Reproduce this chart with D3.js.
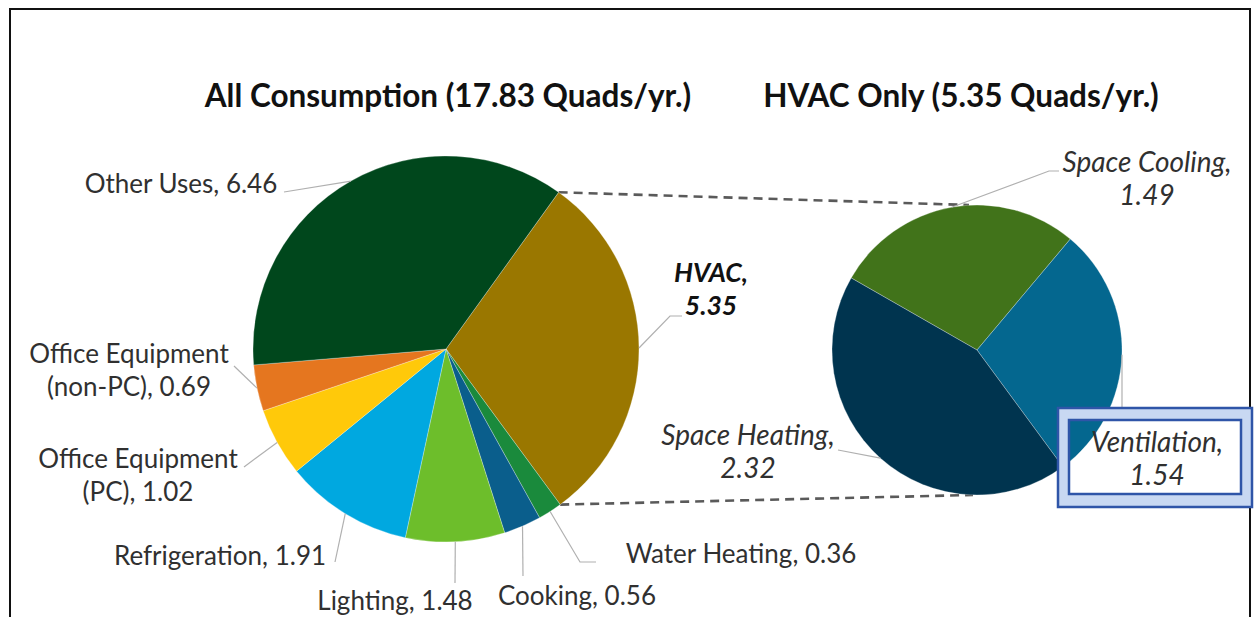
<!DOCTYPE html>
<html>
<head>
<meta charset="utf-8">
<script src="https://cdn.jsdelivr.net/npm/d3@7/dist/d3.min.js"></script>
<style>
  html, body { margin: 0; padding: 0; background: #fff; }
  svg { display: block; }
</style>
</head>
<body>
<svg id="chart" width="1258" height="617"></svg>
<script>
// ---------------- DATA ----------------
const allCategories = ["HVAC", "Water Heating", "Cooking", "Lighting", "Refrigeration",
  "Office Equipment (PC)", "Office Equipment (non-PC)", "Other Uses"];
const allValues = [5.35, 0.36, 0.56, 1.48, 1.91, 1.02, 0.69, 6.46];
const allTotal = 17.83;

const hvacCategories = ["Space Cooling", "Ventilation", "Space Heating"];
const hvacValues = [1.49, 1.54, 2.32];
const hvacTotal = 5.35;

const titles = [`All Consumption (${allTotal.toFixed(2)} Quads/yr.)`, `HVAC Only (${hvacTotal.toFixed(2)} Quads/yr.)`];

// ---------------- STYLE / LAYOUT ----------------
const allColors = ["#9A7700", "#1A8A3C", "#0A5E8C", "#6DBE2B", "#00A8E0", "#FFC90A", "#E5761F", "#00471C"];
const hvacColors = ["#41731A", "#04678F", "#00344F"];
const FONT = "Lato, 'Open Sans', sans-serif";
const LABEL_SIZE = 26;
const ITALIC_SIZE = 28;
const TITLE_SIZE = 31.5;
const LABEL_COLOR = "#303030";
const LEADER = "#b0b0b0";

const deg = Math.PI / 180;
const left = { cx: 446, cy: 349, r: 193, start: 35.7 * deg };
const right = { cx: 977, cy: 350, r: 145, start: -60.2 * deg };

const fmt = v => v.toFixed(2);

// label layout for the left pie (text anchor point + leader end)
const allLabelLayout = [
  { x: 711, y: 282, size: 26.5, lines: d => ["HVAC,", fmt(d.value)], bold: true, italic: true, leader: [[670, 316], [682, 316]] },
  { x: 741, y: 563, lines: d => [`${d.name}, ${fmt(d.value)}`], leader: [[580, 562], [596, 562]] },
  { x: 577, y: 605, lines: d => [`${d.name}, ${fmt(d.value)}`], leader: [[523, 576]] },
  { x: 395, y: 610, lines: d => [`${d.name}, ${fmt(d.value)}`], leader: [[455, 583]] },
  { x: 220, y: 565, lines: d => [`${d.name}, ${fmt(d.value)}`], leader: [[335, 562]] },
  { x: 138, y: 468, lines: d => ["Office Equipment", `(PC), ${fmt(d.value)}`], leader: [[244, 467]] },
  { x: 129, y: 363, lines: d => ["Office Equipment", `(non-PC), ${fmt(d.value)}`], leader: [[234, 366]] },
  { x: 181, y: 193, lines: d => [`${d.name}, ${fmt(d.value)}`], leader: [[284, 192]] }
];
const hvacLabelLayout = [
  { x: 1147, y: 172, lines: d => [`${d.name},`, fmt(d.value)], leader: [[1049, 171], [1059, 171]] },
  { x: 1157, y: 452, lines: d => [`${d.name},`, fmt(d.value)], leader: [[1122, 408]], vertical: true },
  { x: 748, y: 445, lines: d => [`${d.name},`, fmt(d.value)], leader: [[838, 450]] }
];

const svg = d3.select("#chart");

// frame
svg.append("rect").attr("x", 10).attr("y", 9).attr("width", 1240).attr("height", 640)
  .attr("fill", "none").attr("stroke", "#111").attr("stroke-width", 2);

// titles
svg.append("text").attr("x", 448).attr("y", 107).attr("text-anchor", "middle")
  .attr("font-family", FONT).attr("font-weight", "bold").attr("font-size", TITLE_SIZE).attr("fill", "#111")
  .text(titles[0]);
svg.append("text").attr("x", 961).attr("y", 107).attr("text-anchor", "middle")
  .attr("font-family", FONT).attr("font-weight", "bold").attr("font-size", TITLE_SIZE).attr("fill", "#111")
  .text(titles[1]);

function drawPie(cfg, names, values, colors, layout) {
  const data = names.map((n, i) => ({ name: n, value: values[i] }));
  const pie = d3.pie().value(d => d.value).sort(null)
    .startAngle(cfg.start).endAngle(cfg.start + 2 * Math.PI);
  const arcs = pie(data);
  const arc = d3.arc().innerRadius(0).outerRadius(cfg.r);
  const g = svg.append("g").attr("transform", `translate(${cfg.cx},${cfg.cy})`);
  g.selectAll("path").data(arcs).join("path")
    .attr("d", arc)
    .attr("fill", (d, i) => colors[i])
    .attr("stroke", "#ffffff").attr("stroke-opacity", 0.35).attr("stroke-width", 0.8);

  const lineGen = d3.line();
  arcs.forEach((a, i) => {
    const L = layout[i];
    const mid = (a.startAngle + a.endAngle) / 2;
    const ex = cfg.cx + cfg.r * Math.sin(mid);
    const ey = cfg.cy - cfg.r * Math.cos(mid);
    let pts = [[ex, ey]].concat(L.leader);
    if (L.vertical) pts = [[L.leader[0][0], ey], L.leader[0]];
    svg.append("path").attr("d", lineGen(pts)).attr("fill", "none")
      .attr("stroke", LEADER).attr("stroke-width", 1.2);
  });
  return arcs;
}

// connector lines (drawn first so pies overlay them)
const leftArcs = d3.pie().value(d => d).sort(null)
  .startAngle(left.start).endAngle(left.start + 2 * Math.PI)(allValues);
const hvacArc = leftArcs[0];
const p1 = [left.cx + left.r * Math.sin(hvacArc.startAngle), left.cy - left.r * Math.cos(hvacArc.startAngle)];
const p2 = [left.cx + left.r * Math.sin(hvacArc.endAngle), left.cy - left.r * Math.cos(hvacArc.endAngle)];
const dashG = svg.append("g");
[[p1, [right.cx - 8, right.cy - right.r]], [p2, [right.cx - 4, right.cy + right.r]]].forEach(([a, b]) => {
  dashG.append("line").attr("x1", a[0]).attr("y1", a[1]).attr("x2", b[0]).attr("y2", b[1])
    .attr("stroke", "#5a5a5a").attr("stroke-width", 2.6).attr("stroke-dasharray", "9,6");
});

drawPie(left, allCategories, allValues, allColors, allLabelLayout);
drawPie(right, hvacCategories, hvacValues, hvacColors, hvacLabelLayout);

// ventilation highlight box (band only, inside transparent)
const ob = { x: 1058, y: 408, w: 194, h: 99 };
const ib = { x: 1069, y: 420, w: 172, h: 74 };
svg.append("path")
  .attr("d", `M${ob.x},${ob.y}h${ob.w}v${ob.h}h${-ob.w}Z M${ib.x},${ib.y}h${ib.w}v${ib.h}h${-ib.w}Z`)
  .attr("fill", "#C8D8F2").attr("fill-rule", "evenodd");
svg.append("rect").attr("x", ob.x).attr("y", ob.y).attr("width", ob.w).attr("height", ob.h)
  .attr("fill", "none").attr("stroke", "#2F55A8").attr("stroke-width", 2.5);
svg.append("rect").attr("x", ib.x).attr("y", ib.y).attr("width", ib.w).attr("height", ib.h)
  .attr("fill", "none").attr("stroke", "#2F55A8").attr("stroke-width", 2.5);

// labels
function drawLabels(names, values, layout, italic) {
  names.forEach((n, i) => {
    const L = layout[i];
    const d = { name: n, value: values[i] };
    const isItalic = italic || L.italic;
    const t = svg.append("text")
      .attr("x", L.x).attr("y", L.y)
      .attr("text-anchor", "middle")
      .attr("font-family", FONT)
      .attr("font-size", L.size || (isItalic ? ITALIC_SIZE : LABEL_SIZE))
      .attr("font-weight", L.bold ? "bold" : "normal")
      .attr("font-style", isItalic ? "italic" : "normal")
      .attr("fill", L.bold ? "#111" : LABEL_COLOR);
    L.lines(d).forEach((line, k) => {
      t.append("tspan").attr("x", L.x).attr("dy", k === 0 ? 0 : 33).text(line);
    });
  });
}
drawLabels(allCategories, allValues, allLabelLayout, false);
drawLabels(hvacCategories, hvacValues, hvacLabelLayout, true);
</script>
</body>
</html>
